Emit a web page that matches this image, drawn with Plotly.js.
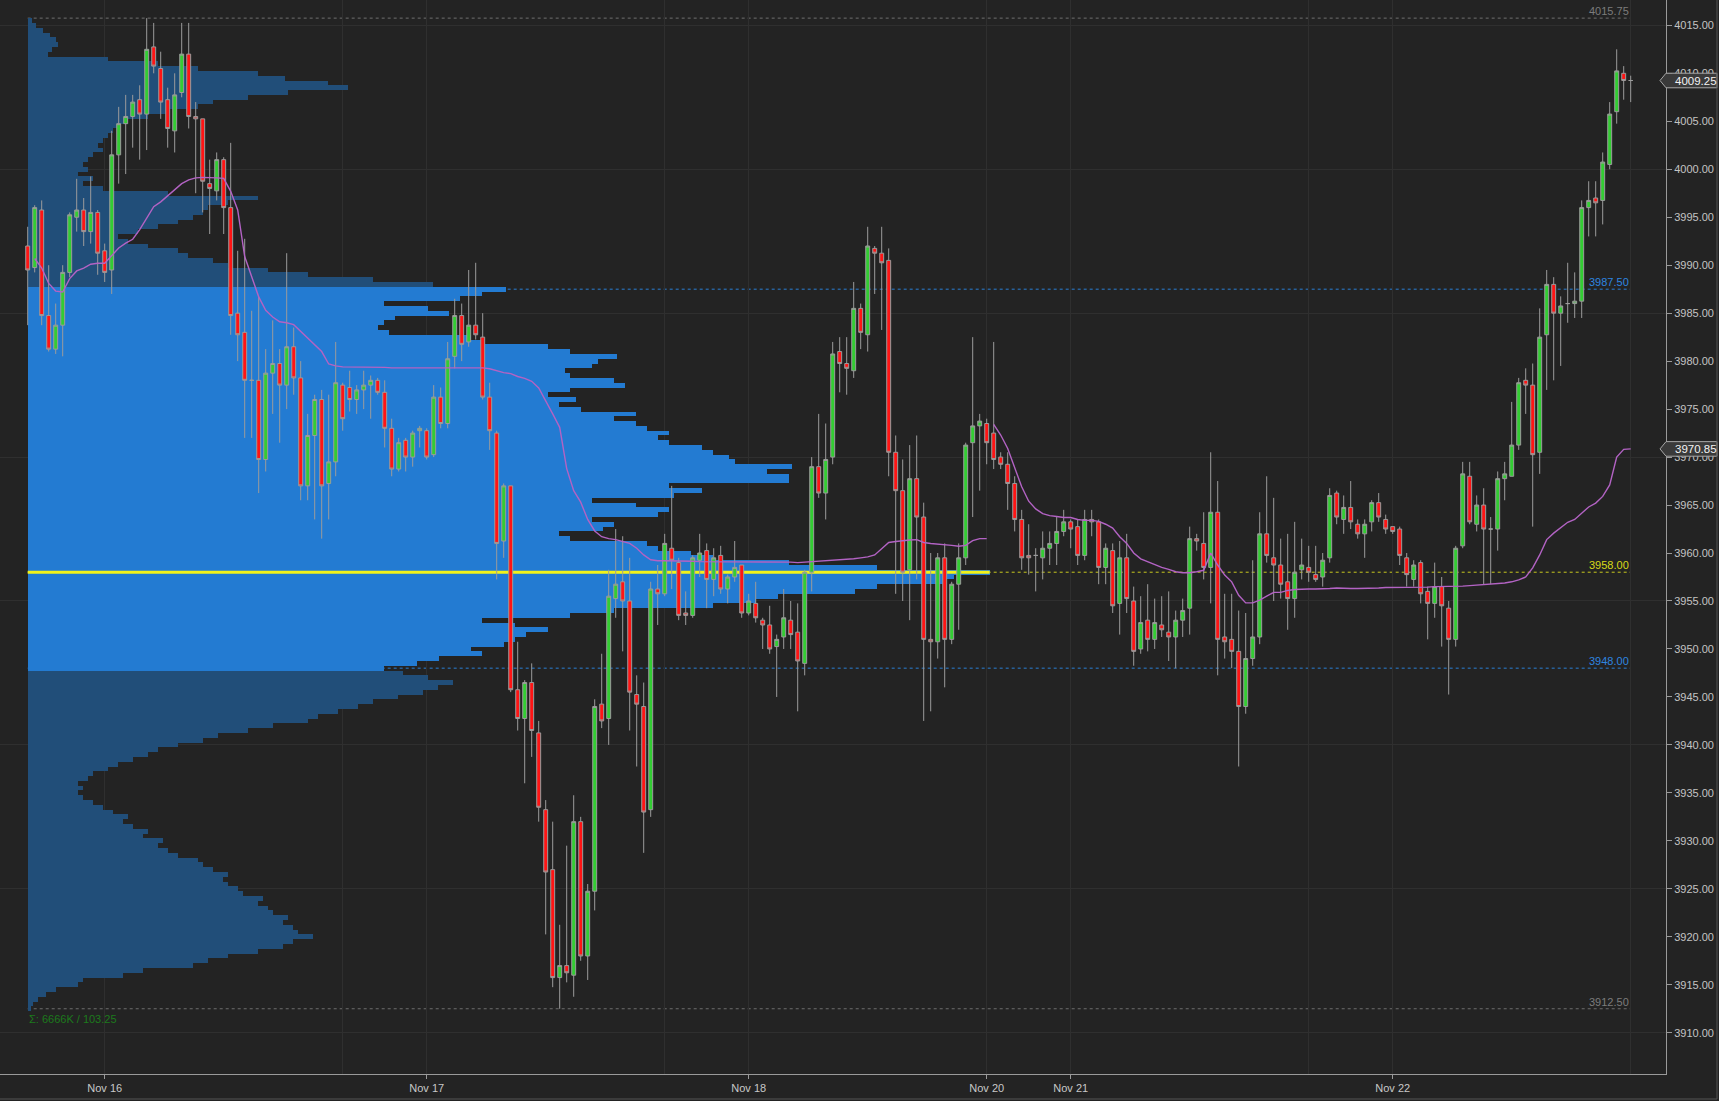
<!DOCTYPE html>
<html><head><meta charset="utf-8">
<script src="https://cdn.plot.ly/plotly-3.0.1.min.js"></script>
<style>html,body{margin:0;padding:0;background:#232323;}#chart{width:1719px;height:1101px;}</style>
</head><body><div id="chart"></div>
<script>
// ---- x axis: 30-minute bar index, day labels ----
const dayTickBars   = [11, 57, 103, 137, 149, 195];
const dayTickLabels = ['Nov 16', 'Nov 17', 'Nov 18', 'Nov 20', 'Nov 21', 'Nov 22'];
const sessionGridBars = [45, 91, 183, 229];

// ---- OHLC (30 min bars) ----
const open = [
3992,3989.75,3995.75,3984.75,3981.25,3983.75,3989.25,3995,3995.75,3993.5,
3995.5,3991.5,3989.5,4001.5,4004.75,4005.5,4007.25,4005.75,4012.75,4010.5,
4007.25,4004,4008,4012,4005.5,4005.25,3998.5,3997.75,4001,3996,
3985,3983,3978,3978,3969.75,3978.75,3979.75,3977.5,3981.5,3978.25,
3967,3972.25,3976,3967.25,3969.5,3977.5,3977.25,3976,3977,3977.5,
3978,3976.75,3973,3968.75,3971.75,3970,3972.75,3972.75,3970.25,3976.25,
3973.5,3980.5,3984.75,3982,3983.75,3982.5,3976.25,3972.5,3961.25,3967,
3945.75,3942.75,3946.5,3941.25,3933.25,3927,3915.75,3917,3916,3932,
3918,3924.75,3944.25,3942.75,3955.25,3957,3955,3945.25,3944,3933.25,
3956.25,3955.75,3960.5,3959,3953.75,3953.5,3959.25,3960.25,3957.25,3959.75,
3956.25,3957.5,3958.75,3953.75,3954.75,3953,3952.5,3950.25,3951.25,3953,
3951.75,3948.5,3958,3969,3966.25,3970,3981,3979.75,3979,3985.5,
3982.75,3991.75,3991.25,3990.5,3970.5,3966.5,3958.25,3967.75,3963.75,3951,
3950.75,3959.5,3951,3956.75,3959.5,3971.5,3973.25,3973.5,3972.5,3970,
3969.25,3967.25,3963.5,3959.75,3959.75,3959.5,3960.5,3961,3962.25,3963.25,
3962.75,3959.75,3963.5,3963.25,3958.5,3960.25,3954.75,3959.5,3955,3950,
3953,3951,3952.5,3951.75,3951.25,3953,3954.25,3961.5,3961,3958.5,
3964.25,3951.25,3951,3949.75,3944,3949,3951.25,3962,3959.5,3958.75,
3957,3955.25,3958.25,3958.5,3957.75,3957.5,3959.5,3966.25,3963.5,3964.75,
3963,3962,3963.25,3965.25,3963.5,3962.75,3962.5,3959.5,3957.25,3959,
3956,3954.75,3956.5,3954.25,3951,3960.75,3968,3963,3965,3962.5,
3962.5,3967.75,3968,3971.25,3978,3977.5,3970.5,3982.75,3988,3985,
3986,3986,3986.25,3996,3997,3996.75,4000.5,4006,4010,4009.25];
const high = [
3994,3996.25,3996.75,3990,3986,3990,3995.5,3999,3997,3999.25,
3995.75,3992.25,4004,4006.5,4007.75,4007.75,4008.75,4015.75,4015.25,4012.25,
4008.5,4010,4015.25,4015.25,4007,4005.25,4001,4001.75,4001.25,4002.75,
3991.5,3992.75,3985.25,3986.75,3981.25,3984.25,3981.25,3991.25,3983.5,3980,
3974.5,3976.5,3977,3976.5,3982,3977.75,3979,3977.5,3979,3978.5,
3978.25,3978,3974,3972,3972,3972.75,3973.25,3973,3977.5,3977.25,
3982,3986.5,3986,3989.5,3990.25,3985,3977.75,3972.75,3967.25,3967,
3950.75,3946.75,3948.5,3942.5,3934.25,3932,3921.25,3929.5,3934.75,3932.5,
3925.5,3944.75,3949.5,3958.25,3962.5,3961.75,3959.5,3947.25,3946.5,3957,
3958.75,3962,3967,3959.5,3956,3959.75,3962,3961,3960.5,3960.75,
3957.75,3961.25,3958.75,3955.75,3957,3953.25,3954.5,3951.5,3956.25,3955,
3954.75,3958.25,3970,3974.5,3973.5,3982,3982.5,3982.5,3988.25,3986,
3994,3992,3994,3991.75,3972.25,3969.75,3971.25,3972.25,3965.25,3960,
3960,3961,3957,3961,3971.5,3982.5,3974.5,3974,3982,3970.5,
3970.5,3968,3964.5,3963,3960.5,3962.25,3962.25,3963.75,3964.5,3963.5,
3963.5,3964.5,3964.5,3963.5,3961,3961,3961.25,3962,3956.5,3955.5,
3956.75,3955.25,3955.5,3956,3954,3955.25,3962.75,3962,3964.25,3970.5,
3967.5,3955.75,3955.75,3954,3953.75,3959.25,3964.25,3968,3965.75,3961.5,
3962,3963.25,3961.5,3960.75,3960.75,3960,3966.75,3966.5,3966,3967.5,
3963.5,3963.5,3965.5,3966.25,3964,3962.75,3962.75,3960,3959.25,3959.25,
3956.5,3959,3957.5,3955,3960.75,3969.5,3969.5,3966,3966.75,3963.75,
3968.5,3969.5,3975.75,3978.25,3979.25,3979.75,3985.5,3989.5,3988.75,3986.75,
3990.25,3989.25,3996.75,3998.75,3998.75,4001.75,4007,4012.5,4010.75,4009.75];
const low = [
3983.75,3989.25,3983.75,3981,3980.75,3980.5,3988.75,3993.5,3992,3992.25,
3989,3988.25,3987,3998.5,3999.5,4002.25,4001,4002,4010,4005.25,
4002.25,4001.75,4007.5,4004.25,3997.5,3995.5,3993.25,3996.75,3993.25,3982.75,
3980,3972,3972,3966.25,3968.5,3974.5,3971.5,3975,3976.5,3965.5,
3965.5,3963.5,3961.5,3963.5,3968,3972.75,3974.75,3974.5,3975,3974,
3976.5,3971,3968,3968.5,3968.5,3969,3971,3969.75,3970,3973,
3973,3979.25,3980,3981.5,3982.25,3976,3970.75,3957.25,3959.5,3945.5,
3941.5,3936,3938.75,3932,3920.25,3914.75,3912.5,3915.25,3913.75,3917.5,
3915.5,3922.75,3941.75,3940,3953.25,3949.75,3941.5,3937.75,3928.75,3932.5,
3952.5,3955.5,3956.25,3953,3952.5,3953.25,3957.5,3954.25,3955.5,3955.75,
3954.75,3957,3953.25,3953.5,3952.75,3950,3949.5,3945,3950,3950,
3943.5,3947.25,3956,3965.75,3963.5,3969.25,3976.75,3976.5,3978.25,3981.25,
3981,3987,3983.25,3968,3955.75,3955,3953,3957.25,3942.5,3943.5,
3949,3946,3950.5,3952,3958.75,3963.75,3966.5,3969.25,3968.75,3968.75,
3964.5,3962.25,3958.25,3957.75,3956,3957.25,3958.75,3958.75,3961.75,3960.5,
3958.75,3959.25,3961.75,3956.75,3956.75,3953.75,3951.5,3953.75,3948.25,3949.5,
3949.75,3950,3951.25,3948.75,3948,3951.25,3951.5,3960.25,3957.25,3954.75,
3947.25,3949,3948,3937.75,3943.25,3948.25,3950.5,3959,3955,3955.25,
3952,3953.25,3957.25,3957,3957,3956.5,3959,3963,3962,3962.5,
3961.5,3959.5,3962.25,3963.25,3962,3962,3958.75,3956.5,3956.5,3954.75,
3951,3953.25,3950.25,3945.25,3950.25,3960.5,3963,3962.25,3956.75,3956.75,
3960.25,3965.5,3968,3970.75,3974.5,3962.75,3968.25,3977,3978,3979.5,
3984,3984.5,3984.5,3993,3993,3994.25,4000,4004.75,4007.25,4007];
const close = [
3989.5,3996,3984.75,3981.25,3983.75,3989.25,3995.25,3995.75,3993.5,3995.5,
3991.25,3989.25,4001.5,4004.75,4005.5,4007,4005.75,4012.5,4010.75,4007,
4004.25,4007.75,4012,4005.5,4005.25,3998.75,3998,4001,3996,3984.75,
3982.75,3978,3978,3969.75,3978.75,3979.75,3977.5,3981.5,3978.25,3967,
3972.25,3976,3967,3969.5,3977.75,3974,3976,3977,3977.5,3978,
3976.75,3973,3968.75,3971.5,3970,3972.5,3973,3970,3976.25,3973.5,
3980.25,3984.75,3981.75,3983.75,3982.75,3976.25,3972.75,3961,3967,3945.75,
3942.75,3946.5,3941.5,3933.5,3926.75,3915.75,3917,3916.25,3932,3918,
3924.75,3944,3942.5,3955.5,3956.75,3955,3945.5,3944.25,3933,3956.25,
3955.75,3961,3959.25,3953.5,3953.5,3959.5,3960,3957.25,3959.5,3956.25,
3957.5,3958.5,3953.75,3955,3953.25,3952.5,3950,3951,3953.25,3951.5,
3948.75,3958,3969,3966.25,3969.75,3980.75,3979.75,3979.25,3985.5,3983,
3992,3991.25,3990.25,3970.5,3966.5,3958,3967.75,3963.75,3951,3950.75,
3959.5,3951,3956.75,3959.5,3971.25,3973.25,3973.75,3971.5,3969.75,3969.25,
3967.25,3963.5,3959.5,3959.5,3959.75,3960.5,3961,3962.25,3963.25,3962.5,
3959.75,3963.5,3963.25,3958.5,3960.5,3954.5,3959.5,3955.25,3949.75,3952.75,
3951,3952.75,3952,3951.25,3953,3954,3961.5,3961.25,3958.5,3964.25,
3951,3950.75,3949.75,3944,3949,3951.25,3962,3959.75,3958.75,3956.75,
3955.25,3958,3958.75,3958,3957.25,3959.25,3966,3963.75,3964.75,3963.25,
3962,3963,3965.25,3963.75,3962.5,3962.25,3959.75,3957.75,3958.75,3955.75,
3954.75,3956.5,3954.5,3951,3960.5,3968.25,3963.25,3965,3962.5,3962.5,
3967.75,3968.25,3971.25,3977.75,3977.5,3970.25,3982.5,3988,3985,3985.75,
3986,3986.25,3996,3996.75,3996.5,4000.75,4005.75,4010.25,4009.25,4009.25];

// ---- VWAP (two anchored segments) ----
const vwapAStart = 1;
const vwapA = [
3990.7,3989.7,3988.1,3987.3,3987.2,3988.6,3989.4,3989.7,3990.1,3990.2,
3990.2,3991.0,3991.8,3992.3,3992.7,3993.7,3994.9,3996.1,3996.6,3997.2,
3997.8,3998.5,3998.9,3999.1,3999.15,3999.15,3999.1,3999.05,3997.7,3995.75,
3990.9,3988.8,3986.7,3985.3,3984.6,3984.1,3984.0,3983.8,3983.1,3982.4,
3981.7,3981.0,3979.7,3979.5,3979.4,3979.4,3979.4,3979.4,3979.4,3979.4,
3979.35,3979.3,3979.3,3979.3,3979.3,3979.3,3979.3,3979.3,3979.3,3979.3,
3979.3,3979.3,3979.3,3979.3,3979.3,3979.2,3979.0,3978.8,3978.7,3978.4,
3978.2,3977.9,3977.2,3975.9,3974.5,3973.1,3968.8,3966.5,3965.3,3963.5,
3962.3,3961.7,3961.5,3961.4,3961.2,3961.0,3960.5,3959.8,3959.3,3959.2,
3959.2,3959.2,3959.2,3959.15,3959.15,3959.1,3959.1,3959.1,3959.1,3959.1,
3959.05,3959.05,3959.05,3959.05,3959.05,3959.05,3959.05,3959.05,3959.05,3959.0,
3959.05,3959.1,3959.15,3959.2,3959.25,3959.3,3959.3,3959.4,3959.5,3959.6,
3959.8,3960.5,3961.1,3961.2,3961.3,3961.35,3961.4,3961.1,3961.0,3960.95,
3960.9,3960.8,3960.7,3960.8,3961.3,3961.5,3961.5];
const vwapBStart = 138;
const vwapB = [
3973.4,3972.3,3970.9,3969.0,3966.9,3965.4,3964.6,3964.1,3963.9,3963.8,
3963.7,3963.7,3963.5,3963.4,3963.4,3963.3,3963.0,3962.6,3961.7,3961.0,
3960.0,3959.4,3959.1,3958.75,3958.5,3958.3,3958.05,3957.95,3957.95,3958.05,
3958.2,3960.0,3958.75,3957.7,3957.0,3955.6,3954.8,3954.8,3955.1,3955.5,
3955.9,3955.9,3956.1,3956.2,3956.25,3956.25,3956.25,3956.25,3956.3,3956.35,
3956.3,3956.3,3956.3,3956.3,3956.35,3956.35,3956.4,3956.4,3956.4,3956.4,
3956.45,3956.45,3956.45,3956.5,3956.5,3956.5,3956.5,3956.55,3956.6,3956.65,
3956.7,3956.7,3956.8,3956.87,3957.0,3957.2,3957.5,3958.45,3959.8,3961.4,
3962.07,3962.6,3963.2,3963.5,3964.2,3964.8,3965.2,3965.9,3967.1,3970.0,
3970.8,3970.85];

// ---- Volume profile (relative volume per 0.5 pt, from 3912.50 upward) ----
const profileLow = 3912.5;
const profileStep = 0.5;
const profileVol = [
3,5,10,18,28,50,55,95,115,165,
180,200,230,255,265,285,270,265,255,260,
245,240,230,235,215,210,200,195,200,185,
175,170,150,140,130,135,115,120,105,95,
100,85,75,65,55,50,55,50,60,65,
80,90,105,120,130,150,175,190,220,245,
280,290,310,330,345,370,395,410,425,400,
375,
356,389,411,454,443,476,487,498,520,487,
454,542,586,685,728,750,827,849,915,926,
962,849,761,685,663,630,619,542,531,575,
586,564,630,641,608,564,646,674,641,761,
761,739,764,707,701,685,674,641,630,641,
619,608,586,608,553,531,548,520,542,597,
586,542,537,564,570,589,542,520,454,443,
361,350,356,367,421,400,356,432,454,478,
405,345,280,240,200,185,160,150,120,100,
90,110,130,150,165,175,180,200,230,140,
75,55,65,50,60,55,60,65,75,70,
75,80,85,90,100,120,140,170,185,220,
260,320,300,257,230,170,130,80,20,24,
30,28,22,15,8,4];
const valueAreaLow = 3948.0;
const valueAreaHigh = 3987.5;
const pocPrice = 3958.0;

// ---- reference levels ----
const levelPrices = [4015.75, 3987.5, 3958.0, 3948.0, 3912.5];
const levelLineColors = ['#6e6e6e', '#2a7fd4', '#c8c81e', '#2a7fd4', '#6e6e6e'];
const levelTextColors = ['#7c7c7c', '#2e86e0', '#d8d818', '#2e86e0', '#7c7c7c'];
const lastPrice = 4009.25;
const vwapLast = 3970.85;
const summaryText = 'Σ: 6666K / 103.25';

// ---------------------------------------------------------------
const idx = open.map((_, i) => i);
const lastBar = idx[idx.length - 1];
const profPrices = profileVol.map((_, i) => profileLow + i * profileStep);
const profColors = profPrices.map(p => (p >= valueAreaLow && p <= valueAreaHigh) ? '#237bd2' : '#214e79');
const pocVol = profileVol[profPrices.indexOf(pocPrice)];
const yMin = 3905.70, yMax = 4017.64;

const traces = [
  {type: 'bar', orientation: 'h', x: profileVol, y: profPrices, base: 0, width: profileStep,
   marker: {color: profColors, line: {width: 0}}, xaxis: 'x', yaxis: 'y', hoverinfo: 'skip'},
  {type: 'scatter', mode: 'lines', x: [0, pocVol], y: [pocPrice, pocPrice],
   line: {color: '#f2f21a', width: 3}, xaxis: 'x', yaxis: 'y', hoverinfo: 'skip'},
  {type: 'candlestick', x: idx, open: open, high: high, low: low, close: close,
   xaxis: 'x2', yaxis: 'y2', whiskerwidth: 0, hoverinfo: 'skip',
   increasing: {line: {color: '#9c9c9c', width: 1}, fillcolor: '#33cc33'},
   decreasing: {line: {color: '#9c9c9c', width: 1}, fillcolor: '#ff1414'}},
  {type: 'scatter', mode: 'lines', x: vwapA.map((_, i) => vwapAStart + i), y: vwapA,
   line: {color: '#b363c4', width: 1.4}, xaxis: 'x2', yaxis: 'y2', hoverinfo: 'skip'},
  {type: 'scatter', mode: 'lines', x: vwapB.map((_, i) => vwapBStart + i), y: vwapB,
   line: {color: '#b363c4', width: 1.4}, xaxis: 'x2', yaxis: 'y2', hoverinfo: 'skip'}
];

const shapes = [];
const annotations = [];
levelPrices.forEach((lv, k) => {
  shapes.push({type: 'line', xref: 'x2', yref: 'y2', x0: 0, x1: lastBar, y0: lv, y1: lv,
    line: {color: levelLineColors[k], width: 1, dash: 'dot'}, layer: 'below'});
  annotations.push({xref: 'x2', yref: 'y2', x: lastBar, y: lv, text: lv.toFixed(2),
    xanchor: 'right', yanchor: 'bottom', showarrow: false, yshift: -1,
    font: {size: 11, color: levelTextColors[k]}});
});
annotations.push({xref: 'x2', yref: 'y2', x: 0, y: profileLow, text: summaryText,
  xanchor: 'left', yanchor: 'top', showarrow: false, xshift: -1, yshift: -2,
  font: {size: 11, color: '#1c7a1c'}});

// price boxes on the right axis
const pxW = 1666;
[lastPrice, vwapLast].forEach(v => {
  const h = 0.76;
  const tip = 1 - 6 / pxW, left = 1, right = 1 + 51 / pxW;
  shapes.push({type: 'path', xref: 'paper', yref: 'y', layer: 'above',
    path: `M ${tip},${v} L ${left},${v + h} L ${right},${v + h} L ${right},${v - h} L ${left},${v - h} Z`,
    fillcolor: '#3a3a3a', line: {color: '#a8a8a8', width: 1}});
  annotations.push({xref: 'paper', yref: 'y', x: 1 + 7 / pxW, y: v, text: v.toFixed(2),
    xanchor: 'left', yanchor: 'middle', showarrow: false,
    font: {size: 11.5, color: '#f2f2f2'}});
});
// outer frame (right / bottom)
shapes.push({type: 'line', xref: 'paper', yref: 'paper', x0: 1 + 51 / pxW, x1: 1 + 51 / pxW, y0: -25 / 1074, y1: 1,
  line: {color: '#555555', width: 1}});
shapes.push({type: 'line', xref: 'paper', yref: 'paper', x0: 0, x1: 1 + 51 / pxW, y0: -25 / 1074, y1: -25 / 1074,
  line: {color: '#555555', width: 1}});

const gridColor = '#2f2f2f';
const layout = {
  width: 1719, height: 1101,
  paper_bgcolor: '#232323', plot_bgcolor: '#232323',
  margin: {l: 0, r: 53, t: 0, b: 27, pad: 0},
  showlegend: false,
  font: {family: 'Liberation Sans, Arial, sans-serif', size: 11, color: '#c4c4c4'},
  bargap: 0,
  boxgap: 0.2,
  hovermode: false,
  xaxis: {range: [-27.7, 1638.3], visible: false, fixedrange: true, showgrid: false, zeroline: false},
  yaxis: {range: [yMin, yMax], side: 'right', anchor: 'x', tickmode: 'linear', tick0: 3910, dtick: 5,
    tickformat: '.2f', showgrid: false, zeroline: false, showline: true, linecolor: '#9a9a9a',
    linewidth: 1, ticks: 'outside', ticklen: 5, tickcolor: '#9a9a9a',
    tickfont: {size: 11, color: '#c4c4c4'}},
  xaxis2: {overlaying: 'x', anchor: 'y2', range: [-27.7 / 7, (1666 - 27.7) / 7],
    tickmode: 'array', tickvals: dayTickBars, ticktext: dayTickLabels,
    showgrid: true, gridcolor: gridColor, gridwidth: 1, zeroline: false,
    showline: true, linecolor: '#9a9a9a', linewidth: 1,
    ticks: 'outside', ticklen: 4, tickcolor: '#9a9a9a',
    tickfont: {size: 11, color: '#c8c8c8'},
    rangeslider: {visible: false},
    minor: {tickmode: 'array', tickvals: sessionGridBars, showgrid: true, gridcolor: gridColor, ticks: ''}},
  yaxis2: {overlaying: 'y', anchor: 'x2', side: 'right', range: [yMin, yMax],
    tickmode: 'linear', tick0: 3910, dtick: 15, showgrid: true, gridcolor: gridColor,
    showticklabels: false, ticks: '', zeroline: false, showline: false},
  shapes: shapes,
  annotations: annotations
};

Plotly.newPlot('chart', traces, layout, {staticPlot: true, displayModeBar: false});
</script>
</body></html>
